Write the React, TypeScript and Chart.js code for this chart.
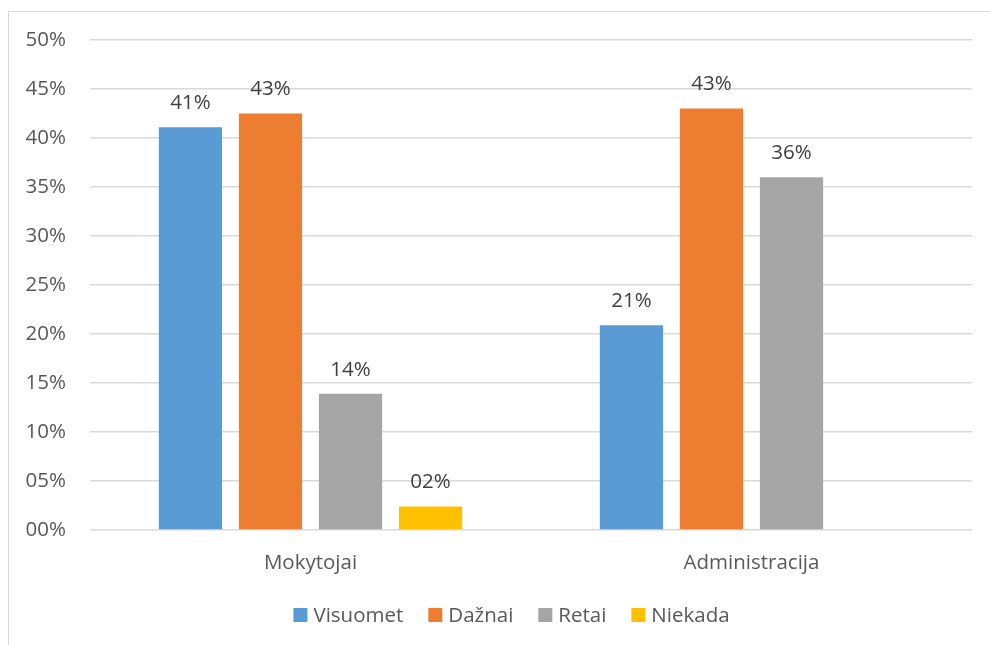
import React, { useEffect, useRef } from "react";
import { Chart, registerables } from "chart.js";

Chart.register(...registerables);

const categories = ["Mokytojai", "Administracija"];
const seriesNames = ["Visuomet", "Dažnai", "Retai", "Niekada"];
const visuomet = [41.1, 20.9];
const daznai = [42.5, 43.0];
const retai = [13.9, 36.0];
const niekada: (number | null)[] = [2.4, null];
const seriesColors = ["#5B9BD5", "#ED7D31", "#A5A5A5", "#FFC000"];
const yMin = 0;
const yMax = 50;
const yStep = 5;

const FONT = "'Open Sans', sans-serif";
const FS = 20.5;
const TEXT = "#595959";

const pct = (v: number) => String(Math.round(v)).padStart(2, "0") + "%";

const labelPlugin = {
  id: "barValueLabels",
  afterDatasetsDraw(chart: any) {
    const ctx = chart.ctx;
    ctx.save();
    ctx.font = `${FS}px ${FONT}`;
    ctx.fillStyle = "#404040";
    ctx.textAlign = "center";
    ctx.textBaseline = "middle";
    chart.data.datasets.forEach((ds: any, di: number) => {
      const meta = chart.getDatasetMeta(di);
      meta.data.forEach((bar: any, i: number) => {
        const v = ds.data[i];
        if (v === null || v === undefined) return;
        ctx.fillText(pct(v), bar.x, bar.y - 24);
      });
    });
    ctx.restore();
  },
};

const legendPlugin = {
  id: "bottomLegend",
  afterDraw(chart: any) {
    const ctx = chart.ctx;
    ctx.save();
    ctx.font = `${FS}px ${FONT}`;
    ctx.textBaseline = "middle";
    ctx.textAlign = "left";
    const box = 14;
    const gapText = 6;
    const gapItem = 25;
    const items = chart.data.datasets.map((ds: any) => ({
      text: ds.label,
      color: ds.backgroundColor,
      w: box + gapText + ctx.measureText(ds.label).width,
    }));
    const total =
      items.reduce((s: number, it: any) => s + it.w, 0) + gapItem * (items.length - 1);
    let x = chart.width / 2 + 12 - total / 2;
    const y = chart.height - 30;
    items.forEach((it: any) => {
      ctx.fillStyle = it.color;
      ctx.fillRect(x, y - box / 2, box, box);
      ctx.fillStyle = TEXT;
      ctx.fillText(it.text, x + box + gapText, y + 1);
      x += it.w + gapItem;
    });
    ctx.restore();
  },
};

export default function App() {
  const ref = useRef<HTMLCanvasElement | null>(null);
  useEffect(() => {
    if (!ref.current) return;
    const data = [visuomet, daznai, retai, niekada];
    const chart = new Chart(ref.current, {
      type: "bar",
      data: {
        labels: categories,
        datasets: seriesNames.map((name, i) => ({
          label: name,
          data: data[i],
          backgroundColor: seriesColors[i],
          borderWidth: 0,
          categoryPercentage: 0.726,
          barPercentage: 0.79,
        })),
      },
      options: {
        responsive: false,
        animation: false,
        layout: { padding: { top: 28, right: 18, left: 0, bottom: 64 } },
        scales: {
          x: {
            grid: { display: false, drawTicks: false },
            border: { display: false },
            ticks: { color: TEXT, font: { family: FONT, size: FS }, padding: 21 },
            afterFit: (s: any) => {
              s.height = 51;
            },
          },
          y: {
            min: yMin,
            max: yMax,
            grid: { color: "#D9D9D9", lineWidth: 1.5, drawTicks: false },
            border: { display: false },
            ticks: {
              stepSize: yStep,
              color: TEXT,
              font: { family: FONT, size: FS },
              padding: 24,
              callback: (v: any) => pct(Number(v)),
            },
            afterFit: (s: any) => {
              s.width = 81;
              s.paddingTop = 12;
              s.paddingBottom = 12;
            },
          },
        },
        plugins: {
          legend: { display: false },
          tooltip: { enabled: false },
        },
      },
      plugins: [labelPlugin, legendPlugin],
    });
    return () => chart.destroy();
  }, []);
  return (
    <div
      style={{
        position: "absolute",
        left: 8,
        top: 11,
        width: 982,
        height: 634,
        borderLeft: "1px solid #D9D9D9",
        borderTop: "1px solid #D9D9D9",
      }}
    >
      <canvas ref={ref} width={981} height={633} style={{ display: "block" }} />
    </div>
  );
}
